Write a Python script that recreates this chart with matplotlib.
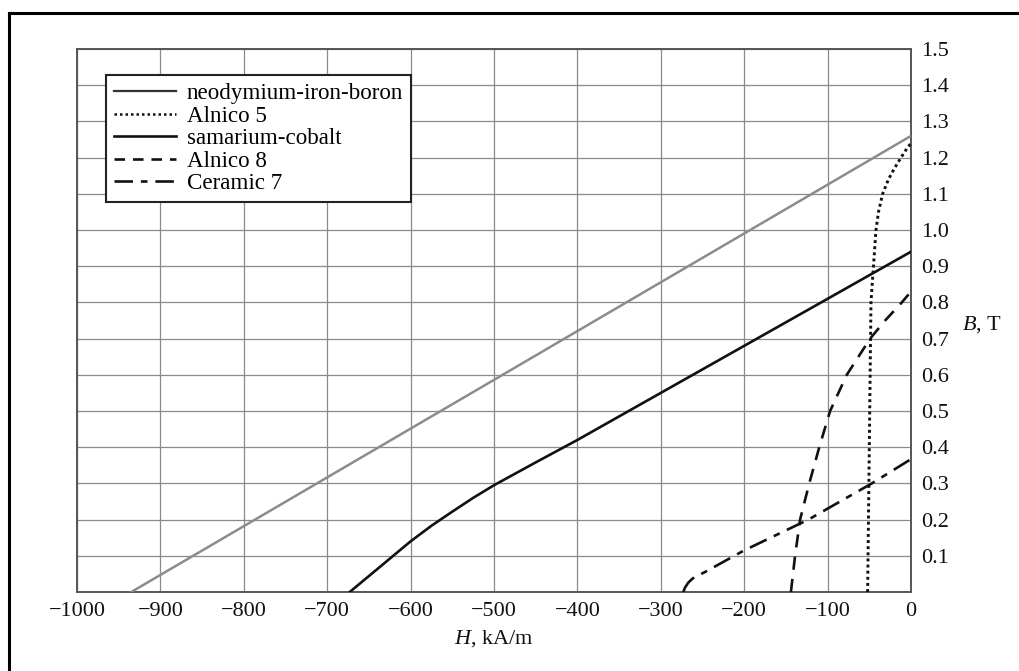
import matplotlib
matplotlib.use("Agg")
import matplotlib.pyplot as plt
from matplotlib.lines import Line2D

plt.rcParams['font.family'] = ['Liberation Serif', 'DejaVu Serif']
plt.rcParams['mathtext.fontset'] = 'custom'
plt.rcParams['mathtext.it'] = 'Liberation Serif:italic'
plt.rcParams['mathtext.rm'] = 'Liberation Serif'

# Data (H in kA/m, B in T)
ndfeb_H = [-935, -500, 0]
ndfeb_B = [0.0, 0.586, 1.26]

alnico5_H = [-52, -50, -48, -45, -42, -39, -34, -27, -20, -12, -5, 0]
alnico5_B = [0.0, 0.4, 0.8, 0.9, 1.0, 1.05, 1.1, 1.14, 1.17, 1.2, 1.225, 1.24]

smco_H = [-673, -650, -625, -600, -575, -550, -525, -500, -450, -400, -300, -200, -100, 0]
smco_B = [0.0, 0.044, 0.092, 0.14, 0.183, 0.222, 0.26, 0.295, 0.358, 0.42, 0.55, 0.68, 0.81, 0.94]

alnico8_H = [-144, -139, -133, -122, -110, -97, -87, -77, -63, -49, -31, -11, 0]
alnico8_B = [0.0, 0.1, 0.2, 0.3, 0.4, 0.5, 0.55, 0.6, 0.65, 0.7, 0.75, 0.8, 0.83]

ceramic7_H = [-273, -271, -267, -262, -255, -248, -200, -123, -47, 0]
ceramic7_B = [0.0, 0.012, 0.026, 0.037, 0.046, 0.054, 0.115, 0.2, 0.3, 0.367]

x_ticks = [-1000, -900, -800, -700, -600, -500, -400, -300, -200, -100, 0]
y_ticks = [0.1, 0.2, 0.3, 0.4, 0.5, 0.6, 0.7, 0.8, 0.9, 1.0, 1.1, 1.2, 1.3, 1.4, 1.5]

labels = ["neodymium-iron-boron", "Alnico 5", "samarium-cobalt", "Alnico 8", "Ceramic 7"]

fig = plt.figure(figsize=(10.19, 6.71), dpi=100)
ax = fig.add_axes([77/1019, 1-592/671, (911-77)/1019, (592-49)/671])

# outer frame lines (top and left)
fig.add_artist(Line2D([9/1019, 1017/1019], [1-13/671, 1-13/671], color='black', lw=2.2))
fig.add_artist(Line2D([9/1019, 9/1019], [0, 1-13/671], color='black', lw=2.2))

ax.plot(ndfeb_H, ndfeb_B, color='#8c8c8c', lw=1.8, zorder=3)
ax.plot(alnico5_H, alnico5_B, color='#111111', lw=2.1, linestyle=(0, (1.0, 1.1)), zorder=3)
ax.plot(smco_H, smco_B, color='#111111', lw=1.9, zorder=3)
ax.plot(alnico8_H, alnico8_B, color='#111111', lw=1.9, linestyle=(0, (5, 3.5)), zorder=3)
ax.plot(ceramic7_H, ceramic7_B, color='#111111', lw=1.9, linestyle=(0, (7, 3, 2.5, 3)), zorder=3)

ax.set_xlim(-1000, 0)
ax.set_ylim(0, 1.5)
ax.set_xticks(x_ticks)
ax.set_xticklabels(["\u2212%d" % abs(v) if v < 0 else "0" for v in x_ticks])
ax.set_yticks(y_ticks)
ax.set_yticklabels(["%.1f" % v for v in y_ticks])
ax.yaxis.tick_right()
ax.tick_params(axis='both', length=0, labelsize=16, colors='#111111')
ax.tick_params(axis='x', pad=7)
ax.tick_params(axis='y', pad=7)

ax.grid(True, color='#8a8a8a', lw=0.9, zorder=1)
for s in ax.spines.values():
    s.set_color('#555555')
    s.set_linewidth(1.4)

ax.set_xlabel(r'$\mathit{H}$, kA/m', fontsize=16, color='#111111', labelpad=5)
fig.text(962/1019, 1-325/671, r'$\mathit{B}$, T', fontsize=16, color='#111111',
         ha='left', va='center')

handles = [
    Line2D([], [], color='#333333', lw=1.6),
    Line2D([], [], color='#111111', lw=1.8, linestyle=(0, (1.0, 1.2))),
    Line2D([], [], color='#111111', lw=1.9),
    Line2D([], [], color='#111111', lw=1.9, linestyle=(0, (4, 3))),
    Line2D([], [], color='#111111', lw=1.9, linestyle=(0, (7, 3, 2.5, 3))),
]
leg = ax.legend(handles, labels, loc='upper left', bbox_to_anchor=(29/834, (592-75)/543),
                borderaxespad=0, fontsize=16.6, frameon=True, fancybox=False,
                edgecolor='#222222', framealpha=1, handlelength=2.7,
                handletextpad=0.45, labelspacing=0.06, borderpad=0.35)
leg.get_frame().set_linewidth(1.5)
leg.set_zorder(5)

fig.savefig('out.png', dpi=100)
